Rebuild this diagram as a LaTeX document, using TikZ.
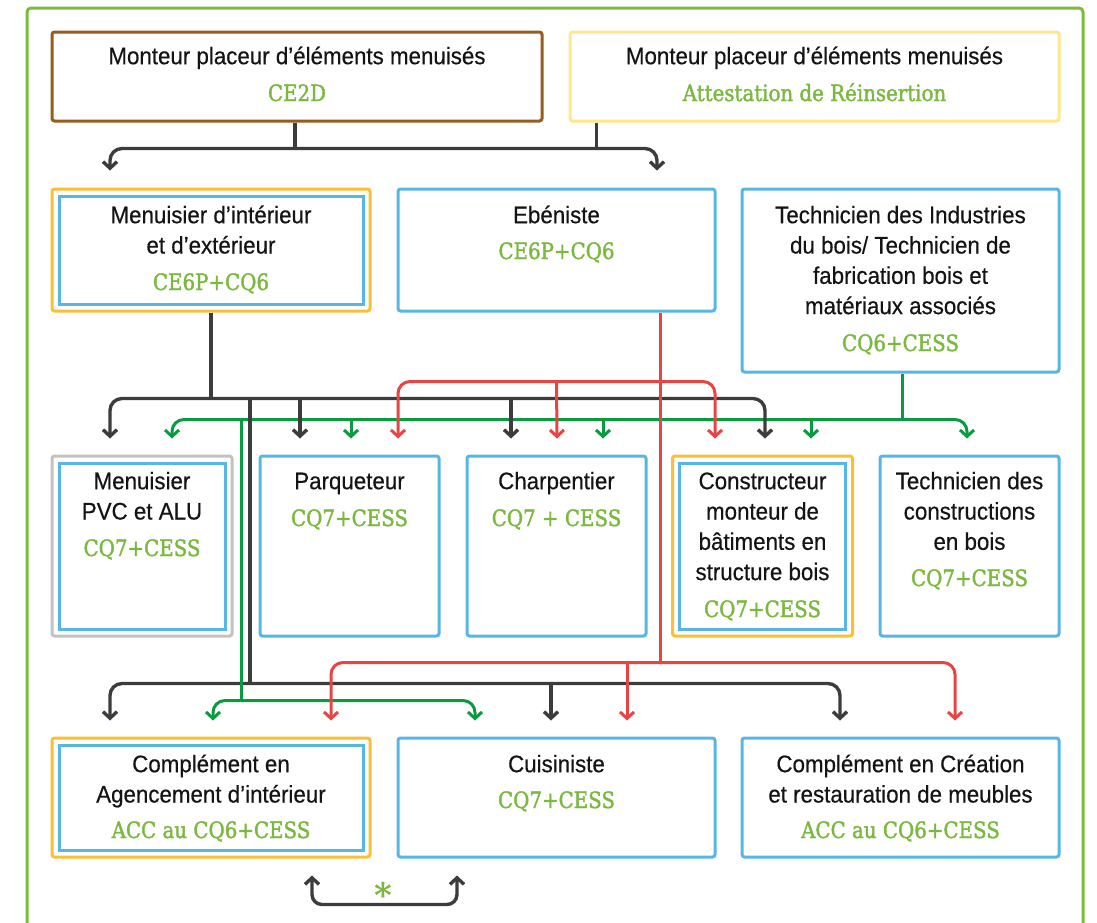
\documentclass[tikz,border=0pt]{standalone}
\usepackage{fontspec}
\setmainfont{Liberation Sans}[FakeStretch=0.93,FakeBold=0.4]
\newfontfamily\grnfont{DejaVu Serif}[FakeStretch=0.88,FakeBold=1.6]
\newfontfamily\starfont{DejaVu Serif Bold}
\usetikzlibrary{arrows.meta,calc}
\definecolor{frameg}{HTML}{7BBA3F}
\definecolor{brownc}{HTML}{955E1E}
\definecolor{paley}{HTML}{FBE98B}
\definecolor{orangec}{HTML}{FBBF35}
\definecolor{bluec}{HTML}{58B6E5}
\definecolor{grayc}{HTML}{C2C2C2}
\definecolor{dkc}{HTML}{3C3C3C}
\definecolor{redc}{HTML}{E84444}
\definecolor{greenc}{HTML}{0A9A41}
\definecolor{txtg}{HTML}{7BB83F}
\definecolor{txtk}{HTML}{141414}
\newcommand\blkfont{\fontsize{24}{30.3}\selectfont}
\newcommand\grfont{\grnfont\fontsize{22.5}{27}\selectfont}
\tikzset{
  bx/.style={draw=bluec, line width=3pt, rounded corners=2.5pt, inner sep=0pt, fill=white},
  bxin/.style={draw=bluec, line width=3pt, inner sep=0pt},
  lbl/.style={anchor=north, inner sep=0pt, align=center, font=\blkfont, text=txtk},
  code/.style={anchor=base, inner sep=0pt, font=\grfont, text=txtg},
  tipbarb/.tip={Straight Barb[length=6.5pt,width=14pt]},
  dk/.style={draw=dkc, line width=3.4pt},
  dka/.style={dk, -tipbarb, rounded corners=12pt},
  gr/.style={draw=greenc, line width=3pt},
  gra/.style={gr, -tipbarb, rounded corners=12pt},
  rd/.style={draw=redc, line width=3pt},
  rda/.style={rd, -tipbarb, rounded corners=12pt},
}
\begin{document}
\begin{tikzpicture}[x=1pt,y=-1pt]
\useasboundingbox (0,0) rectangle (1097,922);
% outer frame
\draw[draw=frameg, line width=3pt, rounded corners=4pt] (27,935) -- (27,8) -- (1083,8) -- (1083,935);

% row 1
\node[bx, draw=brownc, minimum width=490pt, minimum height=89pt] (A) at (297,76.5) {};
\node[bx, draw=paley, minimum width=489pt, minimum height=89pt] (B) at (814.5,76.5) {};
% row 2
\node[bx, draw=orangec, minimum width=318pt, minimum height=122pt] (C) at (211,250) {};
\node[bxin, minimum width=304pt, minimum height=108pt] (Ci) at (C.center) {};
\node[bx, minimum width=317pt, minimum height=122pt] (D) at (556.5,250) {};
\node[bx, minimum width=317pt, minimum height=183pt] (E) at (900.5,280.5) {};
% row 3
\node[bx, draw=grayc, minimum width=180pt, minimum height=180pt] (F) at (142,546) {};
\node[bxin, minimum width=166pt, minimum height=166pt] (Fi) at (F.center) {};
\node[bx, minimum width=179pt, minimum height=180pt] (G) at (349.5,546) {};
\node[bx, minimum width=179pt, minimum height=180pt] (H) at (556.5,546) {};
\node[bx, draw=orangec, minimum width=180pt, minimum height=180pt] (I) at (762.5,546) {};
\node[bxin, minimum width=166pt, minimum height=166pt] (Ii) at (I.center) {};
\node[bx, minimum width=179pt, minimum height=180pt] (J) at (969.5,546) {};
% row 4
\node[bx, draw=orangec, minimum width=318pt, minimum height=119pt] (K) at (211,797.5) {};
\node[bxin, minimum width=304pt, minimum height=105pt] (Ki) at (K.center) {};
\node[bx, minimum width=317pt, minimum height=119pt] (L) at (556.5,797.5) {};
\node[bx, minimum width=317pt, minimum height=119pt] (M) at (900.5,797.5) {};

% texts
\node[lbl] (tA) at (297,42.8) {\strut Monteur placeur d’éléments menuisés};
\node[code] (cA) at (297,101) {CE2D};
\node[lbl] (tB) at (814.5,42.8) {\strut Monteur placeur d’éléments menuisés};
\node[code] (cB) at (814.5,101) {Attestation de Réinsertion};
\node[lbl] (tC) at (211,201.8) {\strut Menuisier d’intérieur\\et d’extérieur};
\node[code] (cC) at (211,290) {CE6P+CQ6};
\node[lbl] (tD) at (556.5,201.8) {\strut Ebéniste};
\node[code] (cD) at (556.5,259) {CE6P+CQ6};
\node[lbl] (tE) at (900.5,201.8) {\strut Technicien des Industries\\du bois/ Technicien de\\fabrication bois et\\matériaux associés};
\node[code] (cE) at (900.5,351) {CQ6+CESS};
\node[lbl] (tF) at (142,467.8) {\strut Menuisier\\PVC et ALU};
\node[code] (cF) at (142,556) {CQ7+CESS};
\node[lbl] (tG) at (349.5,467.8) {\strut Parqueteur};
\node[code] (cG) at (349.5,526) {CQ7+CESS};
\node[lbl] (tH) at (556.5,467.8) {\strut Charpentier};
\node[code] (cH) at (556.5,526) {CQ7 + CESS};
\node[lbl] (tI) at (762.5,467.8) {\strut Constructeur\\monteur de\\bâtiments en\\structure bois};
\node[code] (cI) at (762.5,617) {CQ7+CESS};
\node[lbl] (tJ) at (969.5,467.8) {\strut Technicien des\\constructions\\en bois};
\node[code] (cJ) at (969.5,586) {CQ7+CESS};
\node[lbl] (tK) at (211,750.8) {\strut Complément en\\Agencement d’intérieur};
\node[code] (cK) at (211,838) {ACC au CQ6+CESS};
\node[lbl] (tL) at (556.5,750.8) {\strut Cuisiniste};
\node[code] (cL) at (556.5,808) {CQ7+CESS};
\node[lbl] (tM) at (900.5,750.8) {\strut Complément en Création\\et restauration de meubles};
\node[code] (cM) at (900.5,838) {ACC au CQ6+CESS};

% ---- top connectors (dark)
\coordinate (jA) at ([shift={(-2,26)}]A.south);
\draw[dk] ([xshift=-2pt]A.south) -- (jA);
\draw[dk] ([xshift=28pt]B.south west) -- ([xshift=28pt]B.south west |- jA);
\draw[dka] (jA) -| ([shift={(-101,-17)}]C.north);
\draw[dka] (jA) -| ([shift={(100.5,-17)}]D.north);

% ---- middle green horizontal (under dark)
\coordinate (jE) at ([shift={(1.5,46)}]E.south);
\draw[gr] ([xshift=1.5pt]E.south) -- (jE);
\draw[gra] (jE) -| ([shift={(30,-16)}]F.north);
\draw[gra] (jE) -| ([shift={(-2.5,-16)}]J.north);
\draw[gra] ([xshift=1.5pt]G.north |- jE) -- ([shift={(1.5,-16)}]G.north);
\draw[gra] ([xshift=46.5pt]H.north |- jE) -- ([shift={(46.5,-16)}]H.north);
\draw[gra] ([xshift=48.5pt]I.north |- jE) -- ([shift={(48.5,-16)}]I.north);

% ---- middle dark
\coordinate (jC) at ([shift={(0,86)}]C.south);
\draw[dk] (C.south) -- (jC);
\draw[dka] (jC) -| ([shift={(-32,-16)}]F.north);
\draw[dka] (jC) -| ([shift={(2.5,-16)}]I.north);
\draw[dka] ([xshift=-49.5pt]G.north |- jC) -- ([shift={(-49.5,-16)}]G.north);
\draw[dka] ([xshift=-45.5pt]H.north |- jC) -- ([shift={(-45.5,-16)}]H.north);
\coordinate (jK) at ([shift={(39,-53)}]K.north);
\draw[dk] (jC -| jK) -- (jK);
\draw[dka] (jK) -| ([shift={(-101,-16)}]K.north);
\draw[dka] (jK) -| ([shift={(-60.5,-16)}]M.north);
\draw[dka] ([xshift=-5.5pt]L.north |- jK) -- ([shift={(-5.5,-16)}]L.north);

% ---- lower green
\coordinate (jKg) at ([shift={(30,-36)}]K.north);
\draw[gr] (jE -| jKg) -- (jKg);
\draw[gra] (jKg) -| ([shift={(2,-16)}]K.north);
\draw[gra] (jKg) -| ([shift={(-81.5,-16)}]L.north);

% ---- red
\coordinate (jD) at ([xshift=103.5pt]D.south);
\coordinate (jR) at ([shift={(103.5,69)}]D.south);
\coordinate (jL) at ([shift={(103.5,-74)}]L.north);
\draw[rda] (jR) -| ([shift={(48.5,-16)}]G.north);
\draw[rda] (jR) -| ([shift={(-47.5,-16)}]I.north);
\draw[rda] (H.north |- jR) -- ([shift={(0.5,-16)}]H.north);
\draw[rda] (jL) -| ([shift={(120,-16)}]K.north);
\draw[rda] (jL) -| ([shift={(54.5,-16)}]M.north);
\draw[rda] ([xshift=70.5pt]L.north |- jL) -- ([shift={(70.5,-16)}]L.north);
\draw[rd] (jD) -- (jL);

% ---- bottom double arrow
\coordinate (s1) at ([shift={(101,17)}]K.south);
\coordinate (s3) at ([shift={(101,46)}]K.south);
\coordinate (s2) at ([shift={(-99.5,17)}]L.south);
\draw[dk, tipbarb-tipbarb, rounded corners=10pt] (s1) -- (s3) -| (s2);
\node[inner sep=0pt, font=\starfont\fontsize{34}{34}\selectfont, text=txtg] (star) at (383,895) {*};
\end{tikzpicture}
\end{document}
